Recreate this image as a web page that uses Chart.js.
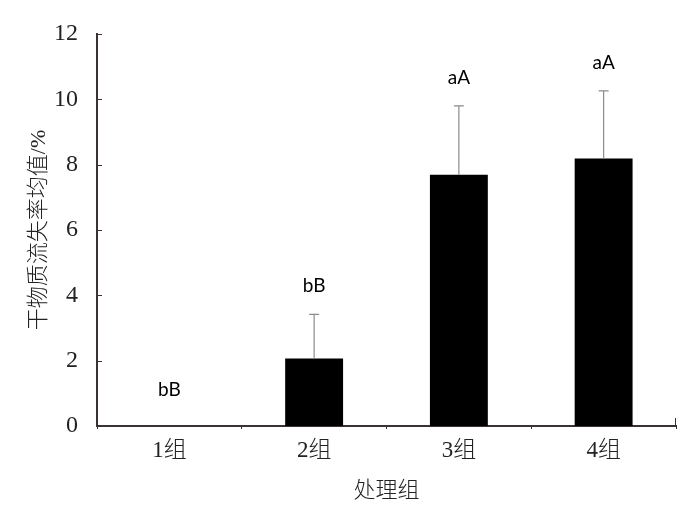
<!DOCTYPE html>
<html>
<head>
<meta charset="utf-8">
<script src="https://cdn.jsdelivr.net/npm/chart.js@4"></script>
<style>
  html, body { margin: 0; padding: 0; background: #fff; }
  #wrap { width: 700px; height: 508px; }
</style>
</head>
<body>
<div id="wrap"><canvas id="myChart" width="700" height="508"></canvas></div>
<script>
const groups = ["1组", "2组", "3组", "4组"];
const means = [0, 2.07, 7.69, 8.19];
const errors = [0, 1.35, 2.11, 2.07];
const letters = ["bB", "bB", "aA", "aA"];
const yTicks = [0, 2, 4, 6, 8, 10, 12];

const serif = '"Liberation Serif", "Noto Sans CJK SC", serif';
const axisColor = "#3a3232";

// error bars, letters and inner y ticks
const extras = {
    id: "extras",
    afterDatasetsDraw(chart) {
        const ctx = chart.ctx;
        const x = chart.scales.x;
        const y = chart.scales.y;
        const meta = chart.getDatasetMeta(0);

        ctx.save();
        ctx.strokeStyle = "#8c8c8c";
        ctx.lineWidth = 1.2;
        meta.data.forEach((bar, i) => {
            if (errors[i] <= 0) return;
            let top = y.getPixelForValue(means[i] + errors[i]);
            let base = y.getPixelForValue(means[i]);
            ctx.beginPath();
            ctx.moveTo(bar.x, base);
            ctx.lineTo(bar.x, top);
            ctx.moveTo(bar.x - 5, top);
            ctx.lineTo(bar.x + 5, top);
            ctx.stroke();
        });

        ctx.fillStyle = "#000";
        ctx.font = '19px Lato, "Open Sans", sans-serif';
        ctx.textAlign = "center";
        ctx.textBaseline = "middle";
        meta.data.forEach((bar, i) => {
            let top = y.getPixelForValue(means[i] + errors[i]);
            let off = errors[i] > 0 ? 28 : 36;
            ctx.fillText(letters[i], bar.x, top - off);
        });

        // small ticks on the inside of the y axis
        ctx.strokeStyle = axisColor;
        ctx.lineWidth = 1;
        yTicks.forEach(v => {
            let py = Math.round(y.getPixelForValue(v)) + 0.5;
            ctx.beginPath();
            ctx.moveTo(x.left, py);
            ctx.lineTo(x.left + 5, py);
            ctx.stroke();
        });
        // right end mark of x axis
        ctx.beginPath();
        ctx.moveTo(x.right - 0.5, y.bottom);
        ctx.lineTo(x.right - 0.5, y.bottom - 8);
        ctx.stroke();
        ctx.restore();
    }
};

new Chart(document.getElementById("myChart"), {
    type: "bar",
    data: {
        labels: groups,
        datasets: [{
            data: means,
            backgroundColor: "#000",
            borderWidth: 0,
            categoryPercentage: 0.4,
            barPercentage: 1
        }]
    },
    options: {
        responsive: false,
        animation: false,
        layout: { padding: { top: 34, right: 24, left: 0, bottom: 0 } },
        plugins: {
            legend: { display: false },
            tooltip: { enabled: false }
        },
        scales: {
            x: {
                offset: true,
                grid: { display: true, offset: true, drawOnChartArea: false, drawTicks: true, tickLength: 3, color: axisColor },
                border: { display: true, color: axisColor, width: 2 },
                ticks: { color: "#222", font: { family: serif, size: 23, weight: 300 }, padding: 8 },
                title: { display: true, text: "处理组", color: "#222", font: { family: serif, size: 22, weight: 300 }, padding: { top: 10 } },
                afterFit(scale) { scale.height = 82; }
            },
            y: {
                min: 0,
                max: 12,
                afterBuildTicks(scale) { scale.ticks = yTicks.map(v => ({ value: v })); },
                grid: { display: false },
                border: { display: true, color: axisColor, width: 2 },
                ticks: { color: "#222", font: { family: serif, size: 24 }, padding: 11 },
                title: { display: true, text: "干物质流失率均值/%", color: "#222", font: { family: serif, size: 22, weight: 300 }, padding: { top: 26, bottom: 0 } },
                afterFit(scale) { scale.width = 97; }
            }
        }
    },
    plugins: [extras]
});
</script>
</body>
</html>
